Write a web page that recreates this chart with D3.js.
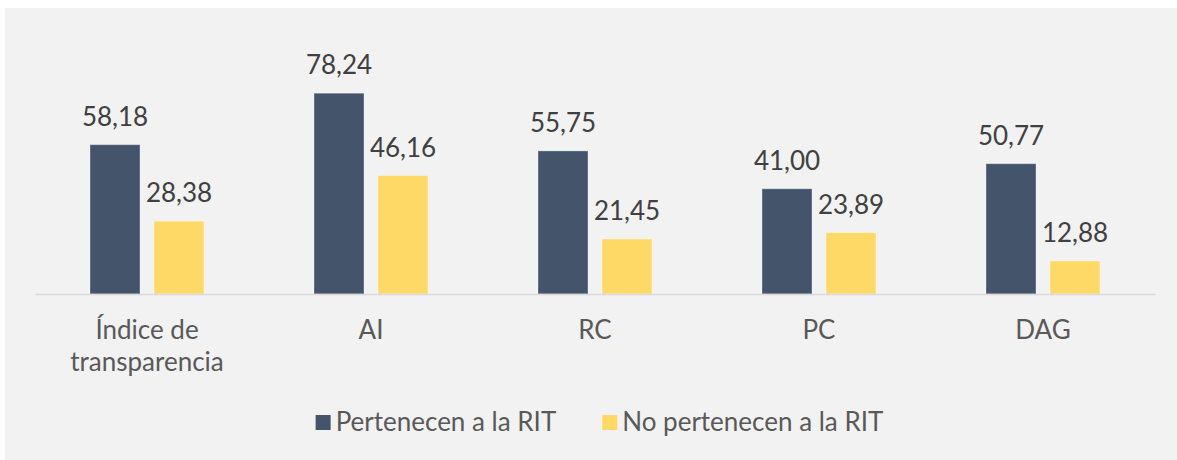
<!DOCTYPE html>
<html>
<head>
<meta charset="utf-8">
<script src="https://cdn.jsdelivr.net/npm/d3@7"></script>
<style>
  html, body { margin: 0; padding: 0; background: #ffffff; }
  svg { display: block; }
  text { font-family: Lato, "Open Sans", sans-serif; }
</style>
</head>
<body>
<svg id="chart" width="1177" height="460"></svg>
<script>
const categories = [["Índice de", "transparencia"], ["AI"], ["RC"], ["PC"], ["DAG"]];
const seriesNames = ["Pertenecen a la RIT", "No pertenecen a la RIT"];
const rit = [58.18, 78.24, 55.75, 41.00, 50.77];
const noRit = [28.38, 46.16, 21.45, 23.89, 12.88];
const colors = ["#44546a", "#ffd966"];

const svg = d3.select("#chart");
const W = 1177, H = 460;
const fontSize = 26;
const fmt = v => v.toFixed(2).replace(".", ",");

svg.append("rect").attr("x", 5).attr("y", 8).attr("width", W - 5).attr("height", H - 8).attr("fill", "#f2f2f2");

const catKeys = categories.map(c => c.join(" "));
const x0 = d3.scaleBand().domain(catKeys).range([35, 1155]).padding(0);
const x1 = d3.scaleBand().domain(seriesNames).range([0, 114]).paddingInner(0.21875).paddingOuter(0);
const y = d3.scaleLinear().domain([0, 90]).range([294, 63]);
const offset = (x0.bandwidth() - 114) / 2;

const data = catKeys.map((k, i) => ({ key: k, lines: categories[i], values: [rit[i], noRit[i]] }));

const groups = svg.append("g").selectAll("g").data(data).join("g")
  .attr("transform", d => `translate(${x0(d.key) + offset},0)`);

groups.selectAll("rect").data(d => d.values.map((v, j) => ({ v, s: seriesNames[j], j }))).join("rect")
  .attr("x", d => x1(d.s))
  .attr("y", d => y(d.v))
  .attr("width", x1.bandwidth())
  .attr("height", d => y(0) - y(d.v))
  .attr("fill", d => colors[d.j])
  .attr("stroke", "#ffffff").attr("stroke-opacity", 0.35).attr("stroke-width", 1);

groups.selectAll("text.val").data(d => d.values.map((v, j) => ({ v, s: seriesNames[j] }))).join("text")
  .attr("class", "val")
  .attr("x", d => x1(d.s) + x1.bandwidth() / 2)
  .attr("y", d => y(d.v) - 19)
  .attr("text-anchor", "middle")
  .attr("font-size", fontSize)
  .attr("fill", "#404040")
  .text(d => fmt(d.v));

// axis baseline
const xAxis = d3.axisBottom(x0).tickSize(0).tickFormat("");
const axisG = svg.append("g").attr("transform", `translate(0,${y(0)})`).call(xAxis);
axisG.select(".domain").attr("stroke", "#d9d9d9").attr("stroke-width", 1.5);

// category labels
const catG = svg.append("g");
data.forEach(d => {
  const t = catG.append("text")
    .attr("text-anchor", "middle")
    .attr("font-size", fontSize)
    .attr("fill", "#595959");
  d.lines.forEach((ln, i) => {
    t.append("tspan").attr("x", x0(d.key) + x0.bandwidth() / 2).attr("y", 339 + i * 32).text(ln);
  });
});

// legend
const leg = svg.append("g");
let cx = 0;
const items = [];
seriesNames.forEach((name, j) => {
  const g = leg.append("g");
  g.append("rect").attr("x", 0).attr("y", 415).attr("width", 15).attr("height", 15).attr("fill", colors[j]);
  const t = g.append("text").attr("x", 20).attr("y", 431).attr("font-size", fontSize).attr("fill", "#595959").text(name);
  items.push({ g, w: 20 + t.node().getComputedTextLength() });
});
const gap = 46;
const total = items.reduce((a, b) => a + b.w, 0) + gap * (items.length - 1);
let start = 599.5 - total / 2;
items.forEach(it => { it.g.attr("transform", `translate(${start},0)`); start += it.w + gap; });
</script>
</body>
</html>
